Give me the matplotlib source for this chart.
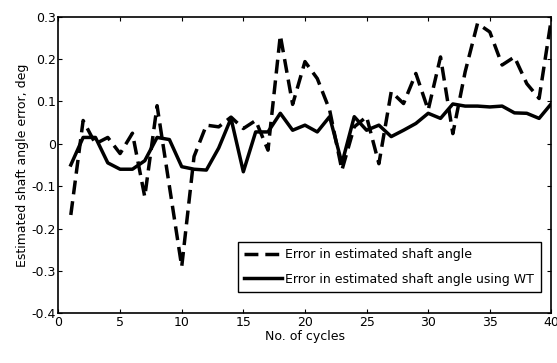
import matplotlib.pyplot as plt

plt.rcParams['font.family'] = 'DejaVu Sans'

# Data
cycles = list(range(1, 41))
err_raw = [-0.168, 0.055, 0.0, 0.015, -0.023, 0.025, -0.125, 0.09, -0.1, -0.29,
           -0.03, 0.044, 0.04, 0.063, 0.036, 0.055, -0.015, 0.256, 0.093, 0.194,
           0.154, 0.08, -0.062, 0.04, 0.064, -0.047, 0.123, 0.095, 0.166, 0.08,
           0.205, 0.024, 0.17, 0.284, 0.264, 0.186, 0.205, 0.142, 0.107, 0.296]
err_wt = [-0.05, 0.015, 0.015, -0.045, -0.06, -0.06, -0.04, 0.015, 0.01, -0.054,
          -0.06, -0.062, -0.01, 0.06, -0.066, 0.028, 0.028, 0.072, 0.032, 0.044,
          0.028, 0.064, -0.046, 0.064, 0.032, 0.044, 0.017, 0.032, 0.048, 0.072,
          0.06, 0.094, 0.089, 0.089, 0.087, 0.089, 0.073, 0.072, 0.06, 0.095]

xticks = [0, 5, 10, 15, 20, 25, 30, 35, 40]
yticks = [-0.4, -0.3, -0.2, -0.1, 0, 0.1, 0.2, 0.3]
ytick_labels = ['-0.4', '-0.3', '-0.2', '-0.1', '0', '0.1', '0.2', '0.3']

fig = plt.figure(figsize=(5.57, 3.63), dpi=100)
ax = fig.add_axes([0.105, 0.137, 0.885, 0.817])

ax.plot(cycles, err_raw, color='black', linestyle='--', linewidth=2.5,
        dashes=(4, 2), label='Error in estimated shaft angle')
ax.plot(cycles, err_wt, color='black', linestyle='-', linewidth=2.5,
        label='Error in estimated shaft angle using WT')

ax.set_xlim(0, 40)
ax.set_ylim(-0.4, 0.3)
ax.set_xticks(xticks)
ax.set_yticks(yticks)
ax.set_yticklabels(ytick_labels)
ax.tick_params(direction='in', top=True, right=True, labelsize=9, length=3, pad=2)

for s in ax.spines.values():
    s.set_linewidth(1.2)

ax.set_xlabel('No. of cycles', fontsize=9, labelpad=1)
ax.set_ylabel('Estimated shaft angle error, deg', fontsize=9, labelpad=2)

leg = ax.legend(loc='lower right', fontsize=9, handlelength=3.0,
                handletextpad=0.3, fancybox=False, edgecolor='black',
                framealpha=1, labelspacing=0.9, borderpad=0.5,
                borderaxespad=0, bbox_to_anchor=(0.978, 0.072))
leg.get_frame().set_linewidth(1.0)

fig.savefig('out.png', dpi=100)
